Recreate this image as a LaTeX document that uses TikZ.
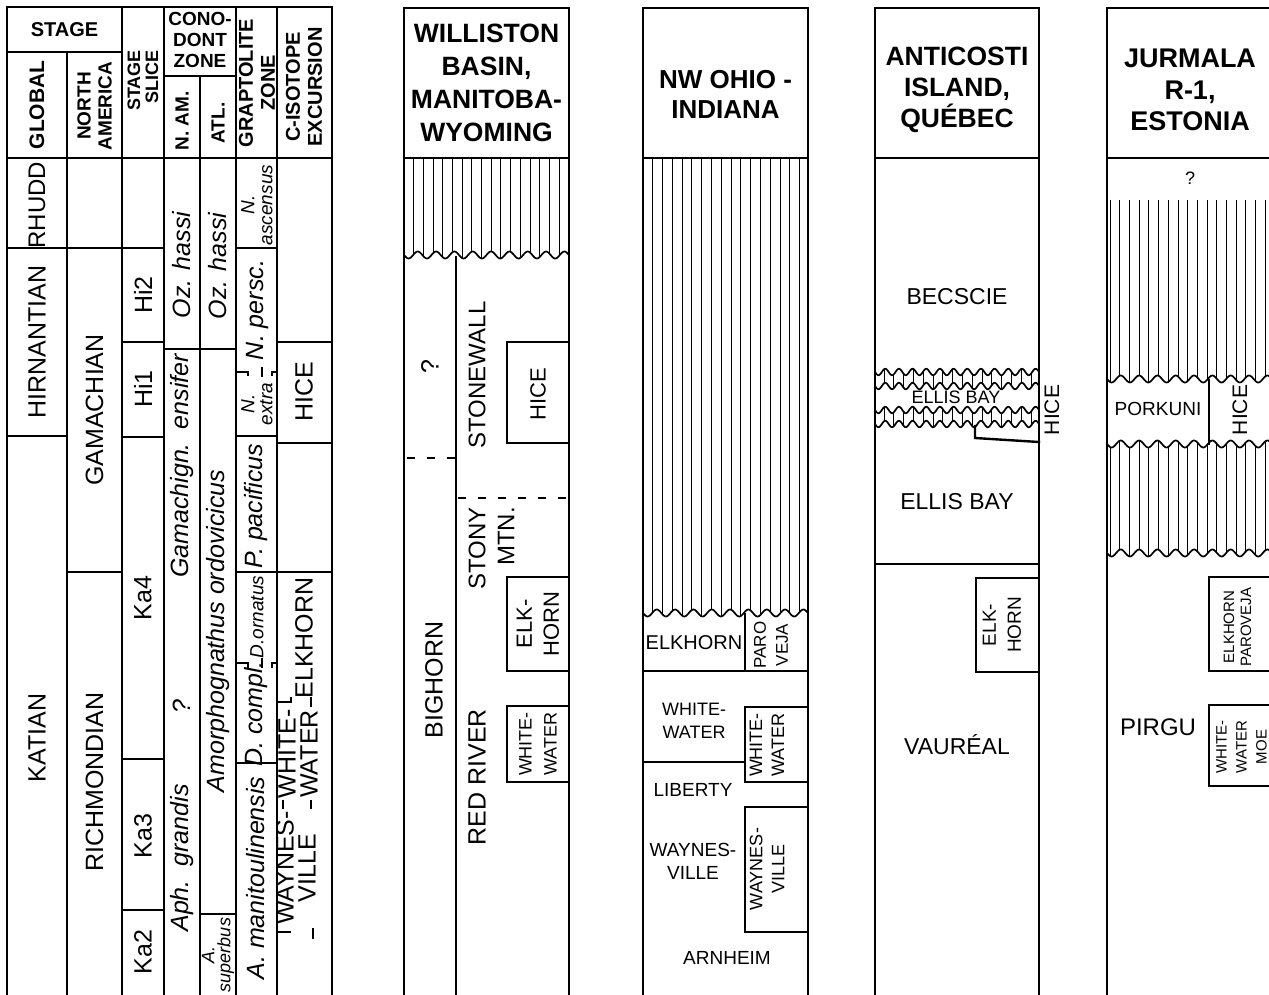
\documentclass[tikz,border=0pt]{standalone}
\usepackage{fontspec}
\setmainfont{Liberation Sans}
\begin{document}
\begin{tikzpicture}[x=1pt,y=-1pt,
  ln/.style={line width=2.4pt, line cap=rect},
  hl/.style={line width=0.8pt},
  wv/.style={line width=1.7pt},
  dsh/.style={line width=2.4pt, dash pattern=on 8pt off 12pt},
  tx/.style 2 args={inner sep=0pt, align=center, font=\fontsize{#1}{#2}\selectfont},
  ti/.style 2 args={inner sep=0pt, align=center, font=\fontsize{#1}{#2}\selectfont\itshape},
  tb/.style 2 args={inner sep=0pt, align=center, font=\fontsize{#1}{#2}\selectfont\bfseries},
  rot/.style={rotate=90}
]
\useasboundingbox (0,0) rectangle (1269,995);
\fill[white] (0,0) rectangle (1269,995);

% ================= LEFT TABLE =================
\draw[ln] (7,7) -- (332,7);
\foreach \vx in {7,122,164,236,277,332} \draw[ln] (\vx,7) -- (\vx,995);
\draw[ln] (67,52) -- (67,995);
\draw[ln] (200,76) -- (200,995);
\draw[ln] (7,52) -- (122,52);
\draw[ln] (164,76) -- (236,76);
\draw[ln] (7,158) -- (332,158);
\draw[ln] (7,248) -- (164,248);
\draw[ln] (236,248) -- (277,248);
\draw[ln] (122,342) -- (164,342);
\draw[ln] (277,342) -- (332,342);
\draw[ln] (164,349) -- (236,349);
\draw[ln] (7,436) -- (67,436);
\draw[ln] (122,437) -- (164,437);
\draw[ln] (236,436) -- (277,436);
\draw[ln] (277,443) -- (332,443);
\draw[ln] (67,572) -- (122,572);
\draw[ln] (236,572) -- (332,572);
\draw[ln] (122,759) -- (164,759);
\draw[ln] (236,763) -- (277,763);
\draw[ln] (122,910) -- (164,910);
\draw[ln] (200,914) -- (236,914);
% dashed markers graptolite
\draw[ln] (237,372) -- (248,372) -- (248,375); \draw[ln] (262,368) -- (262,376); \draw[ln] (272,375) -- (272,372) -- (276,372);
\draw[ln] (237,663) -- (248,663) -- (248,667); \draw[ln] (262,659) -- (262,667); \draw[ln] (272,667) -- (272,663) -- (276,663);
% markers c-isotope
\draw[ln] (278,702) -- (291,702) -- (291,698); \draw[ln] (311,698) -- (311,706);
\draw[ln] (283,801) -- (283,808); \draw[ln] (311,801) -- (311,808);
\draw[ln] (278,932) -- (290,932); \draw[ln] (313,929) -- (313,938);

% header texts
\node[tb={20}{22}] (stg) at (64.5,30) {STAGE};
\node[tb={21}{22},rot] (glob) at (37,105) {GLOBAL};
\node[tb={19}{21},rot] (nam) at (94.5,106) {NORTH\\AMERICA};
\node[tb={18}{18},rot,align=right,anchor=east] (ss) at (143,50) {STAGE\\SLICE};
\node[tb={19}{21}] (cono) at (200,40) {CONO-\\DONT\\ZONE};
\node[tb={19}{20},rot] (nam2) at (182,121) {N. AM.};
\node[tb={19}{20},rot] (atl) at (218,123) {ATL.};
\node[tb={20}{22},rot] (grap) at (257,83) {GRAPTOLITE\\ZONE};
\node[tb={20}{22},rot] (ciso) at (304,87) {C-ISOTOPE\\EXCURSION};

% body texts
\node[tx={24}{28},rot] (rhudd) at (37,205) {RHUDD};
\node[tx={25}{28},rot] (hirn) at (37,342) {HIRNANTIAN};
\node[tx={25}{28},rot] (kat) at (37,738) {KATIAN};
\node[tx={25}{28},rot] (gam) at (94.5,410) {GAMACHIAN};
\node[tx={25}{28},rot] (rich) at (94.5,782) {RICHMONDIAN};
\node[tx={25}{28},rot] (hi2) at (143,295) {Hi2};
\node[tx={25}{28},rot] (hi1) at (143,389) {Hi1};
\node[tx={25}{28},rot] (ka4) at (143,598) {Ka4};
\node[tx={25}{28},rot] (ka3) at (143,836) {Ka3};
\node[tx={25}{28},rot] (ka2) at (143,952) {Ka2};
\node[ti={25}{28},rot] (ozh1) at (182,265) {Oz. hassi};
\node[ti={25}{28},rot] (gens) at (182,466) {Gamachign.\ \ ensifer};
\node[ti={25}{28},rot] (qa) at (182,707) {?};
\node[ti={25}{28},rot] (aph) at (182,858) {Aph.\ \ grandis};
\node[ti={25}{28},rot] (ozh2) at (218,266) {Oz. hassi};
\node[ti={25}{28},rot] (amor) at (218,631) {Amorphognathus ordovicicus};
\node[ti={18}{16},rot] (asup) at (218,955) {A.\\superbus};
\node[ti={19}{18},rot] (nasc) at (257,205) {N.\\ascensus};
\node[ti={25}{28},rot] (npers) at (257,310) {N. persc.};
\node[ti={19}{18},rot] (nextra) at (257,404) {N.\\extra};
\node[ti={25}{28},rot] (ppac) at (256,506) {P. pacificus};
\node[ti={19}{20},rot] (dorn) at (257,617) {D.ornatus};
\node[ti={25}{28},rot] (dcompl) at (256,714) {D. compl.};
\node[ti={25}{28},rot] (aman) at (256,878) {A. manitoulinensis};
\node[tx={25}{28},rot] (hice1) at (304,392) {HICE};
\node[tx={25}{28},rot] (elk1) at (304,638) {ELKHORN};
\node[tx={25}{22},rot] (ww1) at (298,754) {WHITE-\\WATER};
\node[tx={25}{22},rot] (wv1) at (296,868) {WAYNES-\\VILLE};

% ================= WILLISTON =================
\begin{scope}
\clip (404,158) -- (569,158) -- plot[domain=569:404,samples=150] (\x,{255+3.5*sin((\x-404)*19.64)}) -- cycle;
\foreach \hx in {413.5,423.2,...,569} \draw[hl] (\hx,158) -- (\hx,262);
\end{scope}
\draw[wv] plot[domain=404:569,samples=150] (\x,{255+3.5*sin((\x-404)*19.64)});
\draw[ln] (404,8) -- (569,8);
\draw[ln] (404,8) -- (404,995);
\draw[ln] (569,8) -- (569,995);
\draw[ln] (404,158) -- (569,158);
\draw[ln] (456,257) -- (456,995);
\draw[dsh] (407,458) -- (456,458);
\draw[dsh] (458,498) -- (569,498);
\draw[ln] (507,342) rectangle (569,443);
\draw[ln] (507,577) rectangle (569,671);
\draw[ln] (507,706) rectangle (569,782);
\node[tb={26.5}{33}] (wh) at (486.5,83) {WILLISTON\\BASIN,\\MANITOBA-\\WYOMING};
\node[tx={25}{28},rot] (wq) at (430,367) {?};
\node[tx={24}{28},rot] (stonewall) at (477,375) {STONEWALL};
\node[tx={22}{26},rot] (whice) at (538,394) {HICE};
\node[tx={24}{29},rot,align=right,anchor=east] (stony) at (491.5,507) {STONY\\MTN.};
\node[tx={22}{27},rot] (welk) at (538,624) {ELK-\\HORN};
\node[tx={25}{28},rot] (bigh) at (434,680) {BIGHORN};
\node[tx={25}{28},rot] (redr) at (477,777) {RED RIVER};
\node[tx={18}{25},rot] (www) at (538,744) {WHITE-\\WATER};

% ================= NW OHIO =================
\begin{scope}
\clip (643,158) -- (808,158) -- plot[domain=808:643,samples=150] (\x,{613+3.5*sin((\x-643)*19.64)}) -- cycle;
\foreach \hx in {652.5,662.3,...,808} \draw[hl] (\hx,158) -- (\hx,620);
\end{scope}
\draw[wv] plot[domain=643:808,samples=150] (\x,{613+3.5*sin((\x-643)*19.64)});
\draw[ln] (643,8) -- (808,8);
\draw[ln] (643,8) -- (643,995);
\draw[ln] (808,8) -- (808,995);
\draw[ln] (643,158) -- (808,158);
\draw[ln] (745,614) -- (745,671);
\draw[ln] (643,671) -- (808,671);
\draw[ln] (643,762) -- (745,762);
\draw[ln] (745,707) rectangle (808,782);
\draw[ln] (745,807) rectangle (808,932);
\node[tb={26}{30}] (oh) at (725.5,94) {NW OHIO -\\INDIANA};
\node[tx={20}{22}] (oelk) at (694,643) {ELKHORN};
\node[tx={17}{22},rot] (opar) at (771,645) {PARO\\VEJA};
\node[tx={18}{23}] (oww) at (694,721) {WHITE-\\WATER};
\node[tx={19}{23}] (olib) at (693,790) {LIBERTY};
\node[tx={19}{23}] (oway) at (693,861) {WAYNES-\\VILLE};
\node[tx={19}{23}] (oarn) at (727,958) {ARNHEIM};
\node[tx={18}{22},rot] (owwr) at (767,745) {WHITE-\\WATER};
\node[tx={18}{22},rot] (owvr) at (767,869) {WAYNES-\\VILLE};

% ================= ANTICOSTI =================
\begin{scope}
\clip plot[domain=875:1039,samples=300] (\x,{372+3.2*sin((\x-875)*26.34)}) -- plot[domain=1039:875,samples=300] (\x,{386+3.2*sin((\x-875)*26.34)}) -- cycle;
\foreach \hx in {884,893.8,...,1039} \draw[hl] (\hx,365) -- (\hx,392);
\end{scope}
\begin{scope}
\clip plot[domain=875:1039,samples=300] (\x,{410+3.2*sin((\x-875)*26.34)}) -- plot[domain=1039:875,samples=300] (\x,{424+3.2*sin((\x-875)*26.34)}) -- cycle;
\foreach \hx in {884,893.8,...,1039} \draw[hl] (\hx,403) -- (\hx,430);
\end{scope}
\foreach \wb in {372,386,410,424}
  \draw[wv] plot[domain=875:1039,samples=300] (\x,{\wb+3.2*sin((\x-875)*26.34)});
\draw[ln] (875,8) -- (1039,8);
\draw[ln] (875,8) -- (875,995);
\draw[ln] (1039,8) -- (1039,995);
\draw[ln] (875,158) -- (1039,158);
\draw[ln] (975,426) -- (975,438) -- (1039,442);
\draw[ln] (875,564) -- (1039,564);
\draw[ln] (976,578) rectangle (1039,672);
\node[tb={26.5}{31}] (ah) at (957,90) {ANTICOSTI\\ISLAND,\\QUÉBEC};
\node[tx={23}{26}] (becs) at (957,297) {BECSCIE};
\node[tx={18}{20}] (aeb1) at (956,397) {ELLIS BAY};
\node[tx={21}{24},rot] (ahice) at (1052,410) {HICE};
\node[tx={23}{26}] (aeb2) at (957,502) {ELLIS BAY};
\node[tx={23}{26}] (avau) at (957,745) {VAURÉAL};
\node[tx={19}{25},rot] (aelk) at (1002,625) {ELK-\\HORN};

% ================= JURMALA =================
\begin{scope}
\clip (1107,200) -- (1272,200) -- plot[domain=1272:1107,samples=150] (\x,{379+3.5*sin((\x-1107)*19.64)}) -- cycle;
\foreach \hx in {1110,1119.7,...,1272} \draw[hl] (\hx,200) -- (\hx,386);
\end{scope}
\begin{scope}
\clip plot[domain=1107:1272,samples=150] (\x,{444+3.5*sin((\x-1107)*19.64)}) -- plot[domain=1272:1107,samples=150] (\x,{553+3.5*sin((\x-1107)*19.64)}) -- cycle;
\foreach \hx in {1110,1119.7,...,1272} \draw[hl] (\hx,438) -- (\hx,560);
\end{scope}
\foreach \wb in {379,444,553}
  \draw[wv] plot[domain=1107:1272,samples=150] (\x,{\wb+3.5*sin((\x-1107)*19.64)});
\draw[ln] (1107,8) -- (1272,8);
\draw[ln] (1107,8) -- (1107,995);
\draw[ln] (1107,158) -- (1272,158);
\draw[ln] (1209,380) -- (1209,444);
\draw[ln] (1209,577) rectangle (1272,671);
\draw[ln] (1209,705) rectangle (1272,786);
\node[tb={27}{31.5}] (jh) at (1190,90) {JURMALA\\R-1,\\ESTONIA};
\node[tx={18}{20}] (jq) at (1190,178) {?};
\node[tx={19}{22}] (jpork) at (1158,409) {PORKUNI};
\node[tx={21}{24},rot] (jhice) at (1240,410) {HICE};
\node[tx={15}{17},rot] (jelk) at (1237.5,627) {ELKHORN\\PAROVEJA};
\node[tx={24}{27}] (jpir) at (1158,727) {PIRGU};
\node[tx={15}{20},rot] (jww) at (1241.5,747) {WHITE-\\WATER\\MOE};
\end{tikzpicture}
\end{document}
